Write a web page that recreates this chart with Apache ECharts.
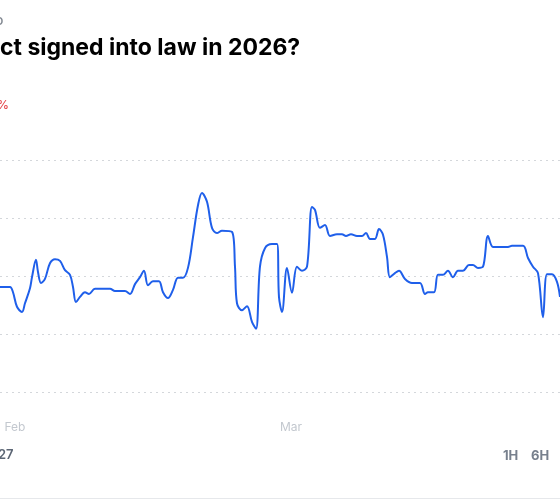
<!DOCTYPE html>
<html>
<head>
<meta charset="utf-8">
<script src="https://cdn.jsdelivr.net/npm/echarts@6/dist/echarts.min.js"></script>
<style>
html,body{margin:0;padding:0;background:#fff;}
#chart{width:560px;height:504px;}
</style>
</head>
<body>
<div id="chart"></div>
<script>
// ---- data ----
const titleText = 'ct signed into law in 2026?';
const monthNames = ['Jan','Feb','Mar','Apr','May','Jun','Jul','Aug','Sep','Oct','Nov','Dec'];
const xMin = '2026-01-30 11:30';
const xMax = '2026-03-28 07:00';
const times = [
 '2026-01-30 11:30','2026-01-31 11:50','2026-01-31 19:10','2026-02-01 04:50','2026-02-01 17:00',
 '2026-02-02 00:20','2026-02-02 12:30','2026-02-02 17:25','2026-02-03 03:05','2026-02-03 08:00',
 '2026-02-03 15:20','2026-02-04 01:00','2026-02-04 13:10','2026-02-05 01:25','2026-02-05 13:35',
 '2026-02-06 01:45','2026-02-06 13:55','2026-02-06 21:15','2026-02-07 04:30','2026-02-07 14:15',
 '2026-02-08 02:25','2026-02-08 12:10','2026-02-09 02:50','2026-02-10 15:20','2026-02-11 03:30',
 '2026-02-12 03:50','2026-02-12 16:00','2026-02-13 04:10','2026-02-13 16:20','2026-02-14 02:05',
 '2026-02-14 11:50','2026-02-15 00:00','2026-02-15 14:35','2026-02-16 00:20','2026-02-16 12:30',
 '2026-02-17 00:40','2026-02-17 12:55','2026-02-18 01:00','2026-02-18 13:10','2026-02-19 01:25',
 '2026-02-19 13:35','2026-02-19 23:20','2026-02-20 11:30','2026-02-20 23:40','2026-02-21 11:50',
 '2026-02-22 00:00','2026-02-23 00:25','2026-02-23 07:40','2026-02-23 12:30','2026-02-24 00:40',
 '2026-02-24 12:55','2026-02-25 01:00','2026-02-25 10:50','2026-02-25 20:30','2026-02-26 08:40',
 '2026-02-27 01:40','2026-02-27 13:55','2026-02-27 18:45','2026-02-28 02:05','2026-02-28 14:15',
 '2026-03-01 02:25','2026-03-01 14:35','2026-03-02 02:50','2026-03-02 15:00','2026-03-03 03:05',
 '2026-03-03 10:25','2026-03-03 22:35','2026-03-04 10:50','2026-03-04 23:00','2026-03-05 16:00',
 '2026-03-06 04:10','2026-03-06 13:55','2026-03-07 02:05','2026-03-07 16:40','2026-03-08 04:55',
 '2026-03-08 14:35','2026-03-09 00:25','2026-03-09 12:30','2026-03-09 22:15','2026-03-10 08:00',
 '2026-03-10 17:45','2026-03-11 01:00','2026-03-11 13:10','2026-03-11 23:00','2026-03-12 13:35',
 '2026-03-13 06:35','2026-03-14 02:05','2026-03-14 14:20','2026-03-14 21:35','2026-03-15 12:10',
 '2026-03-15 21:55','2026-03-16 10:05','2026-03-16 22:15','2026-03-17 10:25','2026-03-17 22:35',
 '2026-03-18 10:50','2026-03-19 01:25','2026-03-19 11:05','2026-03-19 23:20','2026-03-20 11:30',
 '2026-03-20 23:40','2026-03-21 11:50','2026-03-22 04:55','2026-03-23 00:25','2026-03-23 10:05',
 '2026-03-24 12:55','2026-03-25 01:05','2026-03-25 13:15','2026-03-26 01:25','2026-03-26 13:35',
 '2026-03-26 23:20','2026-03-27 11:30','2026-03-27 23:40','2026-03-28 07:00'
];
const values = [
 18.1,18.1,17.2,14.7,13.8,
 15.3,17.9,19.8,22.8,20.7,
 18.8,19.5,22.2,22.9,22.6,
 21.0,20.2,18.1,15.5,16.4,
 17.2,16.9,17.8,17.8,17.4,
 17.4,16.9,18.6,19.8,20.9,
 18.4,19.1,19.1,17.2,16.2,
 17.6,19.7,19.7,21.4,26.7,
 32.2,34.3,32.8,28.3,27.4,
 27.8,27.6,21.6,15.3,14.1,
 14.8,12.1,10.9,21.6,24.8,
 25.5,25.5,16.4,13.8,21.4,
 17.1,21.6,20.9,21.6,31.9,
 31.4,28.3,28.8,26.9,27.2,
 27.2,26.9,27.2,26.9,26.9,
 27.4,26.4,26.4,28.1,27.1,
 23.3,19.8,20.5,20.9,19.5,
 18.8,18.8,16.9,17.2,17.2,
 20.2,20.2,20.9,19.8,20.9,
 20.9,21.9,21.9,21.4,21.6,
 26.9,25.0,25.0,25.0,25.2,
 25.2,23.1,21.6,20.5,12.9,
 20.3,20.3,19.0,16.4
];
const yMin = 0, yMax = 40, yStep = 10;
const rangeButtons = ['1H','6H'];

// ---- chart ----
const chart = echarts.init(document.getElementById('chart'), null, {renderer:'canvas'});
const seriesData = times.map((t,i)=>[t, values[i]]);
const font = 'Inter, "Open Sans", "DejaVu Sans", sans-serif';

chart.setOption({
  animation:false,
  backgroundColor:'#ffffff',
  grid:{left:0,right:0,top:160,bottom:112,containLabel:false},
  xAxis:{
    type:'time', min:xMin, max:xMax,
    axisLine:{show:false}, axisTick:{show:false}, splitLine:{show:false},
    axisLabel:{
      color:'#c3c8cf', fontSize:12, fontFamily:font, margin:29,
      hideOverlap:false, showMinLabel:false, showMaxLabel:false,
      formatter:function(v){const d=new Date(v); return (d.getDate()===1 && d.getHours()===0 && d.getMinutes()===0)? monthNames[d.getMonth()] : '';}
    }
  },
  yAxis:{
    type:'value', min:yMin, max:yMax, interval:yStep,
    axisLine:{show:false}, axisTick:{show:false}, axisLabel:{show:false},
    splitLine:{show:true, lineStyle:{color:'#d4d7db', width:1, type:[2,4]}}
  },
  series:[{
    type:'line', data:seriesData, smooth:0.35, showSymbol:false,
    lineStyle:{color:'#1f5fea', width:2},
    clip:true
  }],
  graphic:[
    {type:'text', left:-5, top:14, style:{text:'o', fill:'#858b94', font:'500 14px '+font}},
    {type:'text', left:0, top:37, style:{text:titleText, fill:'#000000', font:'700 23px '+font}},
    {type:'text', left:-3, top:99, style:{text:'%', fill:'#e5484d', font:'500 12px '+font}},
    {type:'text', left:-2, top:449, style:{text:'27', fill:'#5c6675', font:'600 13px '+font}},
    {type:'text', left:503, top:450, style:{text:rangeButtons[0], fill:'#77808d', font:'700 13px '+font}},
    {type:'text', left:531, top:450, style:{text:rangeButtons[1], fill:'#77808d', font:'700 13px '+font}},
    {type:'rect', shape:{x:0,y:498,width:560,height:1}, style:{fill:'#e6e8eb'}}
  ]
});
</script>
</body>
</html>
